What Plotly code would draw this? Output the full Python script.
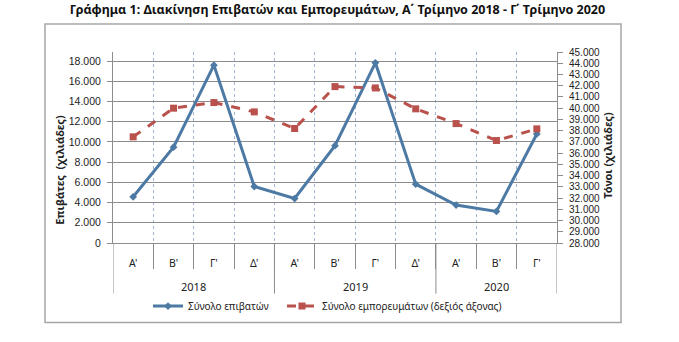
import plotly.graph_objects as go

years = ["2018"] * 4 + ["2019"] * 4 + ["2020"] * 3
quarters = ["Α'", "Β'", "Γ'", "Δ'", "Α'", "Β'", "Γ'", "Δ'", "Α'", "Β'", "Γ'"]
passengers = [4570, 9480, 17600, 5590, 4400, 9630, 17830, 5820, 3750, 3120, 10790]
cargo = [37450, 40000, 40500, 39670, 38190, 41920, 41800, 39940, 38630, 37120, 38160]

title_text = "Γράφημα 1: Διακίνηση Επιβατών και Εμπορευμάτων, Α΄ Τρίμηνο 2018 - Γ΄ Τρίμηνο 2020"
FONT = "Noto Sans"
TICKFONT = "Liberation Sans"
W, H = 679, 342
L, R, T, B = 113, 557, 52, 243.3
AX = "#8c8c8c"

def px_x(x):
    return (x - L) / (R - L)

def px_y(y):
    return (B - y) / (B - T)

idx = list(range(len(quarters)))
bounds = [i + 0.5 for i in idx[:-1]]

# year groups
groups = []
for i, yv in enumerate(years):
    if not groups or groups[-1][0] != yv:
        groups.append([yv, i, i])
    else:
        groups[-1][2] = i

fig = go.Figure()
fig.add_trace(go.Scatter(
    x=idx, y=passengers, name="Σύνολο επιβατών",
    mode="lines+markers", legend="legend",
    line=dict(color="#4d7aa4", width=3),
    marker=dict(symbol="diamond", size=6, color="#4d7aa4"),
))
fig.add_trace(go.Scatter(
    x=idx, y=cargo, name="Σύνολο εμπορευμάτων (δεξιός άξονας)",
    mode="lines+markers", yaxis="y2", legend="legend2",
    line=dict(color="#b9514d", width=3, dash="dash"),
    marker=dict(symbol="square", size=7, color="#b9514d"),
))

leg_common = dict(orientation="h", xanchor="left", y=px_y(306.5), yanchor="middle",
                  font=dict(size=10), bgcolor="rgba(0,0,0,0)")

fig.update_layout(
    width=W, height=H,
    margin=dict(l=L, r=W - R, t=T, b=H - B, autoexpand=False),
    paper_bgcolor="white", plot_bgcolor="white",
    separators=",.",
    font=dict(family=FONT, size=10.5, color="#222"),
    title=dict(text="<b>" + title_text + "</b>", x=0.497, xanchor="center",
               y=1 - 9.5 / H, yanchor="middle", yref="container",
               font=dict(family=FONT, size=12.5, color="#111")),
    showlegend=True,
    legend=dict(x=px_x(148), **leg_common),
    legend2=dict(x=px_x(282), **leg_common),
    xaxis=dict(
        range=[-0.5, len(quarters) - 0.5],
        tickvals=idx, ticktext=quarters, ticks="", showgrid=False,
        ticklabelstandoff=10,
        showline=True, linecolor=AX, linewidth=1, zeroline=False,
        minor=dict(tickvals=bounds, showgrid=True, gridcolor="#9fb4d2", griddash="dot",
                   gridwidth=1, ticks="outside", ticklen=25, tickcolor=AX),
        tickfont=dict(size=10.5),
    ),
    yaxis=dict(
        range=[0, 18900], dtick=2000, tick0=0, tickformat=",d",
        showgrid=True, gridcolor=AX, gridwidth=1,
        showline=True, linecolor=AX, ticks="outside", ticklen=5,
        tickcolor=AX, zeroline=False, ticklabelstandoff=4,
        tickfont=dict(family=TICKFONT, size=10.5),
    ),
    yaxis2=dict(
        range=[28000, 45000], dtick=1000, tick0=28000, tickformat=",d",
        overlaying="y", side="right", showgrid=False,
        showline=True, linecolor=AX, ticks="outside", ticklen=5,
        tickcolor=AX, zeroline=False, ticklabelstandoff=4,
        tickfont=dict(family=TICKFONT, size=10),
    ),
)

# year labels and dividers
for yv, i0, i1 in groups:
    fig.add_annotation(text=yv, x=(i0 + i1) / 2, xref="x", yref="paper", y=px_y(287),
                       showarrow=False, font=dict(size=11), yanchor="middle")
    fig.add_shape(type="line", xref="x", yref="paper", x0=i0 - 0.5, x1=i0 - 0.5,
                  y0=px_y(294), y1=0, line=dict(color=AX, width=1))
fig.add_shape(type="line", xref="x", yref="paper", x0=idx[-1] + 0.5, x1=idx[-1] + 0.5,
              y0=px_y(294), y1=0, line=dict(color=AX, width=1))

fig.add_annotation(text="<b>Επιβάτες  (χιλιάδες)</b>", textangle=-90, xref="paper", yref="paper",
                   x=px_x(60), y=px_y(170), showarrow=False, font=dict(size=11),
                   xanchor="center", yanchor="middle")
fig.add_annotation(text="<b>Τόνοι (χιλιάδες)</b>", textangle=-90, xref="paper", yref="paper",
                   x=px_x(608), y=px_y(156), showarrow=False, font=dict(size=11),
                   xanchor="center", yanchor="middle")

fig.add_shape(type="rect", xref="paper", yref="paper",
              x0=px_x(45), x1=px_x(621), y0=px_y(323), y1=px_y(24),
              line=dict(color="#a6a6a6", width=1.5), layer="below")

fig.write_html("out.html")
